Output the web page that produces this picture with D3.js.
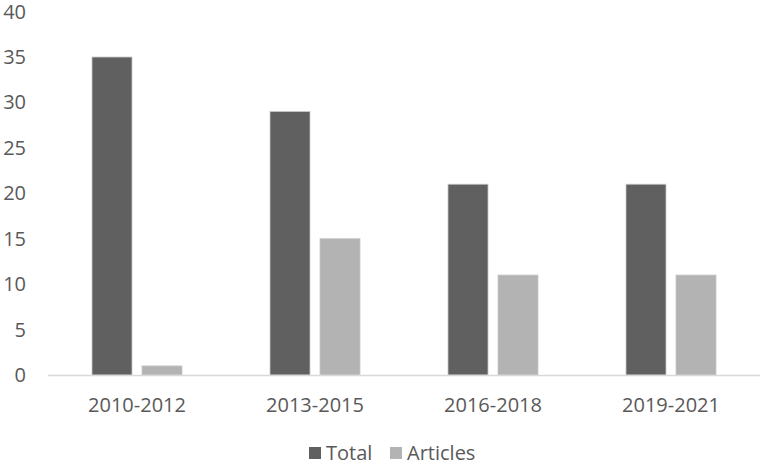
<!DOCTYPE html>
<html><head><meta charset="utf-8">
<script src="https://cdn.jsdelivr.net/npm/d3@7"></script>
<style>body{margin:0;background:#fff}svg{display:block}text{font-family:"Open Sans",sans-serif;fill:#595959}</style>
</head><body>
<svg id="c" width="765" height="465"></svg>
<script>
const categories = ["2010-2012","2013-2015","2016-2018","2019-2021"];
const seriesNames = ["Total","Articles"];
const totalValues = [35,29,21,21];
const articleValues = [1,15,11,11];
const yTicks = [0,5,10,15,20,25,30,35,40];
const colors = {"Total":"#606060","Articles":"#b3b3b3"};

const svg = d3.select("#c");
const x = d3.scaleBand().domain(categories).range([48,760]);
const y = d3.scaleLinear().domain([0,40]).range([375,11.6]);
const sub = d3.scaleBand().domain(seriesNames).range([-45,45]).paddingInner(0.2);

const data = categories.map((c,i)=>({cat:c, vals:[{s:"Total",v:totalValues[i]},{s:"Articles",v:articleValues[i]}]}));

// y tick labels
svg.append("g").selectAll("text").data(yTicks).join("text")
  .attr("x",26).attr("y",d=>y(d)).attr("dy","0.35em").attr("text-anchor","end")
  .attr("font-size",20).text(d=>d);

// bars
const g = svg.append("g").selectAll("g").data(data).join("g")
  .attr("transform",d=>`translate(${x(d.cat)+x.bandwidth()/2},0)`);
g.selectAll("rect").data(d=>d.vals).join("rect")
  .attr("x",d=>sub(d.s)).attr("width",sub.bandwidth())
  .attr("y",d=>y(d.v)).attr("height",d=>y(0)-y(d.v))
  .attr("fill",d=>colors[d.s]).attr("stroke","#c8c8c8").attr("stroke-width",0.8);

// axis line
svg.append("line").attr("x1",48).attr("x2",760).attr("y1",375.5).attr("y2",375.5)
  .attr("stroke","#d9d9d9").attr("stroke-width",1.5);

// category labels
svg.append("g").selectAll("text").data(categories).join("text")
  .attr("x",d=>x(d)+x.bandwidth()/2).attr("y",412).attr("text-anchor","middle")
  .attr("font-size",20).text(d=>d);

// legend
const legend = [{s:"Total",x:309},{s:"Articles",x:390}];
const lg = svg.append("g").selectAll("g").data(legend).join("g");
lg.append("rect").attr("x",d=>d.x).attr("y",447).attr("width",12).attr("height",12)
  .attr("fill",d=>colors[d.s]);
lg.append("text").attr("x",d=>d.x+17).attr("y",460).attr("font-size",20).text(d=>d.s);
</script>
</body></html>
